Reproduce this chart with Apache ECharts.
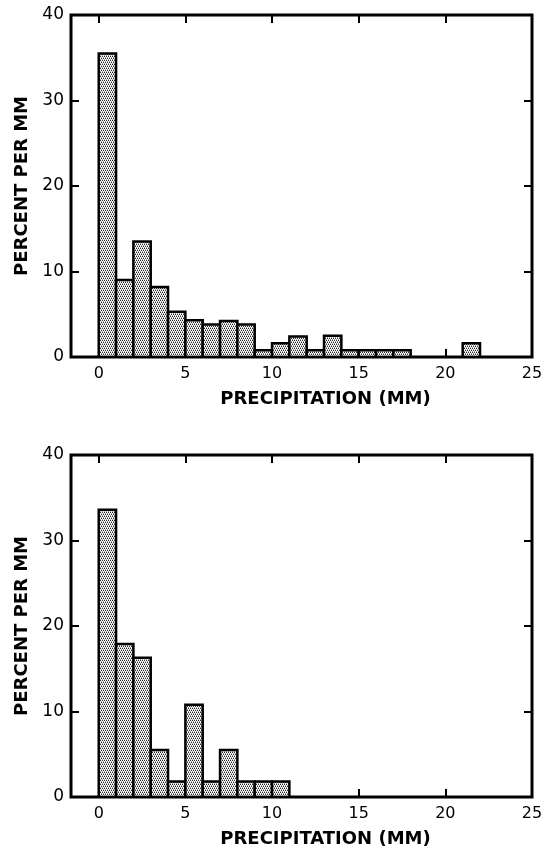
<!DOCTYPE html>
<html>
<head>
<meta charset="utf-8">
<script src="https://cdn.jsdelivr.net/npm/echarts@6/dist/echarts.min.js"></script>
<style>
html,body{margin:0;padding:0;background:#fff;}
#chart{width:549px;height:849px;}
</style>
</head>
<body>
<div id="chart"></div>
<script>
// ---- data ----
var topBinStart = [0,1,2,3,4,5,6,7,8,9,10,11,12,13,14,15,16,17,18,19,20,21];
var topValues   = [35.5,9.0,13.5,8.2,5.3,4.3,3.8,4.2,3.8,0.8,1.6,2.4,0.8,2.5,0.8,0.8,0.8,0.8,0,0,0,1.6];
var bottomBinStart = [0,1,2,3,4,5,6,7,8,9,10];
var bottomValues   = [33.6,17.9,16.3,5.5,1.8,10.8,1.8,5.5,1.8,1.8,1.8];
var binWidth = 1;
var xTickLabels = [0,5,10,15,20,25];
var xTopTicks = [0,5,10,15,20];
var yTickLabels = [0,10,20,30,40];
var xName = 'PRECIPITATION (MM)';
var yName = 'PERCENT PER MM';

// ---- style ----
var FONT = 'DejaVu Sans';
var xMin = -1.6, xMax = 25, yMin = 0, yMax = 40;

function makePattern(){
  var c = document.createElement('canvas');
  c.width = 4; c.height = 4;
  var g = c.getContext('2d');
  g.fillStyle = '#ffffff'; g.fillRect(0,0,4,4);
  g.fillStyle = '#2a2a2a';
  g.fillRect(0,0,1,1); g.fillRect(2,0,1,1); g.fillRect(1,2,1,1); g.fillRect(3,2,1,1);
  g.fillStyle = '#a0a0a0';
  g.fillRect(1,1,1,1); g.fillRect(3,1,1,1); g.fillRect(0,3,1,1); g.fillRect(2,3,1,1);
  return c;
}
var pattern = {image: makePattern(), repeat: 'repeat'};

function toRows(starts, vals){
  return starts.map(function(s,i){ return [s, s + binWidth, vals[i]]; });
}

function renderBin(params, api){
  var h = api.value(2);
  if (!h) return;
  var p0 = api.coord([api.value(0), h]);
  var p1 = api.coord([api.value(1), 0]);
  return {
    type: 'rect',
    shape: {x: p0[0], y: p0[1], width: p1[0]-p0[0], height: p1[1]-p0[1]},
    style: {fill: pattern, stroke: '#000', lineWidth: 2.5}
  };
}

var grids = [
  {left: 71, top: 15, width: 461, height: 342},
  {left: 71, top: 455, width: 461, height: 344}
];

var tickStyle = {color: '#000', width: 2};
var xAxes = [], yAxes = [];
grids.forEach(function(g, gi){
  g.show = true; g.borderColor = '#000'; g.borderWidth = 3; g.backgroundColor = 'transparent';
  xAxes.push({
    gridIndex: gi, type: 'value', min: xMin, max: xMax, position: 'bottom',
    axisLine: {show: false, onZero: false}, splitLine: {show: false},
    axisTick: {show: true, inside: true, length: 8, lineStyle: tickStyle, customValues: xTickLabels},
    axisLabel: {customValues: xTickLabels, color: '#000', fontSize: 16, fontFamily: FONT, margin: 9},
    name: xName, nameLocation: 'middle', nameGap: 33,
    nameTextStyle: {color: '#000', fontSize: 18, fontWeight: 'bold', fontFamily: FONT, padding: [0,0,0,48]}
  });
  xAxes.push({
    gridIndex: gi, type: 'value', min: xMin, max: xMax, position: 'top',
    axisLine: {show: false, onZero: false}, splitLine: {show: false},
    axisTick: {show: true, inside: true, length: 8, lineStyle: tickStyle, customValues: xTopTicks},
    axisLabel: {show: false}
  });
  yAxes.push({
    gridIndex: gi, type: 'value', min: yMin, max: yMax, interval: 10, position: 'left',
    axisLine: {show: false, onZero: false}, splitLine: {show: false},
    axisTick: {show: true, inside: true, length: 8, lineStyle: tickStyle},
    axisLabel: {color: '#000', fontSize: 17, fontFamily: FONT, margin: 7,
      formatter: function(v){ return yTickLabels.indexOf(v) >= 0 ? String(v) : ''; }},
    name: yName, nameLocation: 'middle', nameGap: 35,
    nameTextStyle: {color: '#000', fontSize: 18, fontWeight: 'bold', fontFamily: FONT}
  });
  yAxes.push({
    gridIndex: gi, type: 'value', min: yMin, max: yMax, interval: 10, position: 'right',
    axisLine: {show: false, onZero: false}, splitLine: {show: false},
    axisTick: {show: true, inside: true, length: 8, lineStyle: tickStyle},
    axisLabel: {show: false}
  });
});

var chart = echarts.init(document.getElementById('chart'), null, {renderer: 'canvas'});
chart.setOption({
  animation: false,
  backgroundColor: '#fff',
  grid: grids,
  xAxis: xAxes,
  yAxis: yAxes,
  series: [
    {type: 'custom', xAxisIndex: 0, yAxisIndex: 0, renderItem: renderBin,
     encode: {x: [0,1], y: 2}, data: toRows(topBinStart, topValues), clip: true},
    {type: 'custom', xAxisIndex: 2, yAxisIndex: 2, renderItem: renderBin,
     encode: {x: [0,1], y: 2}, data: toRows(bottomBinStart, bottomValues), clip: true}
  ]
});
</script>
</body>
</html>
